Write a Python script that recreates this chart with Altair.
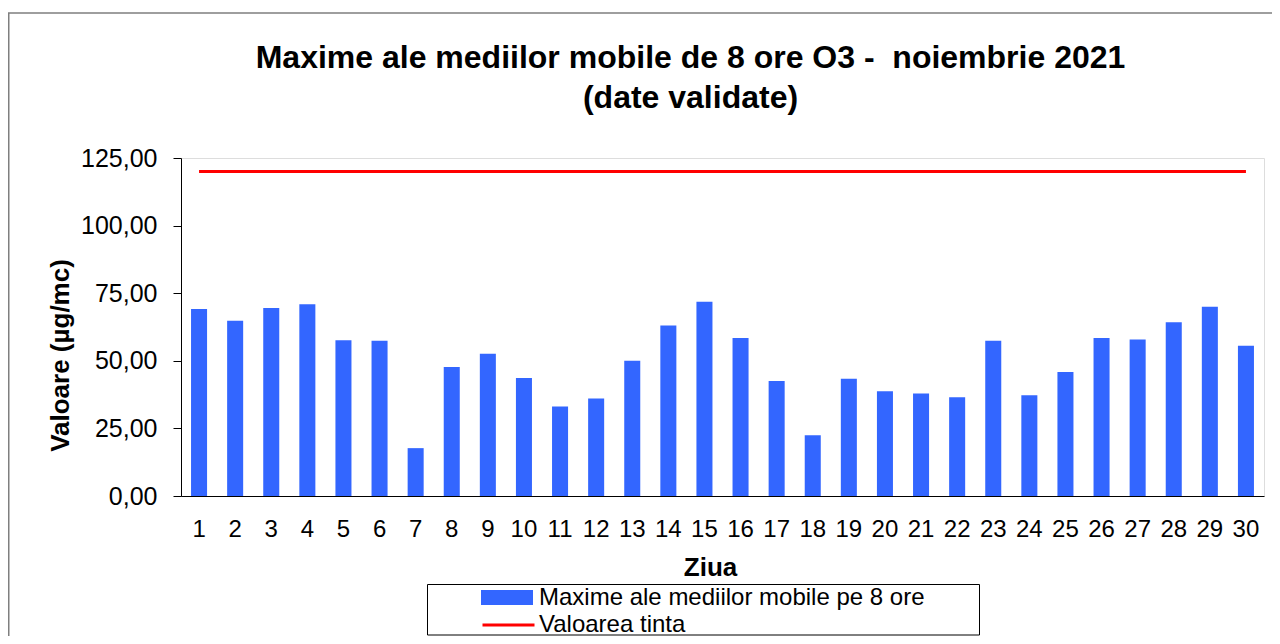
import altair as alt
import pandas as pd

# ---- data ----
DAYS = list(range(1, 31))
O3_MAX = [69.2, 64.8, 69.5, 70.9, 57.6, 57.4, 17.7, 47.7, 52.6, 43.6,
          33.1, 36.1, 50.0, 63.1, 71.8, 58.4, 42.5, 22.5, 43.4, 38.7,
          37.9, 36.5, 57.4, 37.3, 45.9, 58.4, 57.9, 64.3, 70.0, 55.6]
TARGET = [120] * 30
SERIES_BAR = "Maxime ale mediilor mobile pe 8 ore"
SERIES_LINE = "Valoarea tinta"
Y_TICKS = [0, 25, 50, 75, 100, 125]
TITLE_LINES = ["Maxime ale mediilor mobile de 8 ore O3 - \u00a0noiembrie 2021", "(date validate)"]
X_TITLE = "Ziua"
Y_TITLE = "Valoare (µg/mc)"

FONT = "Liberation Sans"
BLUE = "#3366FF"
RED = "#FF0000"

bar_df = pd.DataFrame({"day": DAYS, "value": O3_MAX, "series": [SERIES_BAR] * len(DAYS)})
line_df = pd.DataFrame({"day": DAYS, "target": TARGET, "series": [SERIES_LINE] * len(DAYS)})
one_df = pd.DataFrame({"k": [0]})

x_enc = alt.X(
    "day:O",
    scale=alt.Scale(paddingInner=0.556, paddingOuter=0.278),
    title=X_TITLE,
    axis=alt.Axis(
        labelAngle=0, ticks=False, tickSize=0, labelPadding=21,
        labelFont=FONT, labelFontSize=24, labelColor="black",
        domainColor="black", domainWidth=1,
        titleFont=FONT, titleFontSize=26, titleFontWeight="bold", titleColor="black",
        titleX=529, titleY=79, titleAlign="center", titleBaseline="alphabetic",
    ),
)

y_axis = alt.Axis(
    values=Y_TICKS,
    labelExpr="replace(format(datum.value, '.2f'), '.', ',')",
    labelFont=FONT, labelFontSize=25, labelColor="black", labelPadding=16,
    tickSize=8, tickColor="black", domainColor="black", grid=False,
    titleFont=FONT, titleFontSize=26, titleFontWeight="bold", titleColor="black",
    titleX=-113, titleY=197, titleAngle=-90, titleAlign="center", titleBaseline="alphabetic",
)
y_scale = alt.Scale(domain=[0, 125], nice=False)

frame = alt.Chart(one_df).mark_rect(filled=False, stroke="#7F7F7F", strokeWidth=1.5).encode(
    x=alt.value(-172.25), x2=alt.value(1119), y=alt.value(-145), y2=alt.value(542)
)
legend_frame = alt.Chart(one_df).mark_rect(filled=False, stroke="black", strokeWidth=1).encode(
    x=alt.value(246.5), x2=alt.value(798.5), y=alt.value(426.5), y2=alt.value(477)
)

bars = alt.Chart(bar_df).mark_bar().encode(
    x=x_enc,
    y=alt.Y("value:Q", scale=y_scale, axis=y_axis, title=Y_TITLE),
    color=alt.Color(
        "series:N",
        scale=alt.Scale(domain=[SERIES_BAR], range=[BLUE]),
        legend=alt.Legend(
            title=None, orient="none", legendX=300, legendY=426.5, padding=0,
            symbolType="M-2,-0.58H2V0.58H-2Z", symbolSize=676, symbolStrokeWidth=0,
            symbolOffset=13, labelOffset=19,
            labelFont=FONT, labelFontSize=24, labelColor="black", labelLimit=600,
        ),
    ),
)

line = alt.Chart(line_df).mark_line(strokeWidth=3).encode(
    x=alt.X("day:O"),
    y=alt.Y("target:Q", scale=y_scale, axis=y_axis, title=Y_TITLE),
    stroke=alt.Stroke(
        "series:N",
        scale=alt.Scale(domain=[SERIES_LINE], range=[RED]),
        legend=alt.Legend(
            title=None, orient="none", legendX=300, legendY=452.5, padding=0,
            symbolType="M-2,0H2", symbolSize=676, symbolStrokeWidth=3,
            symbolOffset=13, labelOffset=16,
            labelFont=FONT, labelFontSize=24, labelColor="black", labelLimit=600,
        ),
    ),
)

chart = alt.layer(frame, legend_frame, bars, line).properties(
    width=1083,
    height=338,
    padding={"left": 173, "top": 150, "right": 8, "bottom": 140},
    autosize=alt.AutoSizeParams(type="none"),
    title=alt.Title(
        TITLE_LINES, font=FONT, fontSize=32, fontWeight="bold", color="black",
        anchor="middle", frame="group", dx=-32, offset=-103, lineHeight=40,
    ),
).configure_view(stroke=None).configure(background="white")

chart.save("out.html", embed_options={"renderer": "svg", "actions": False})
